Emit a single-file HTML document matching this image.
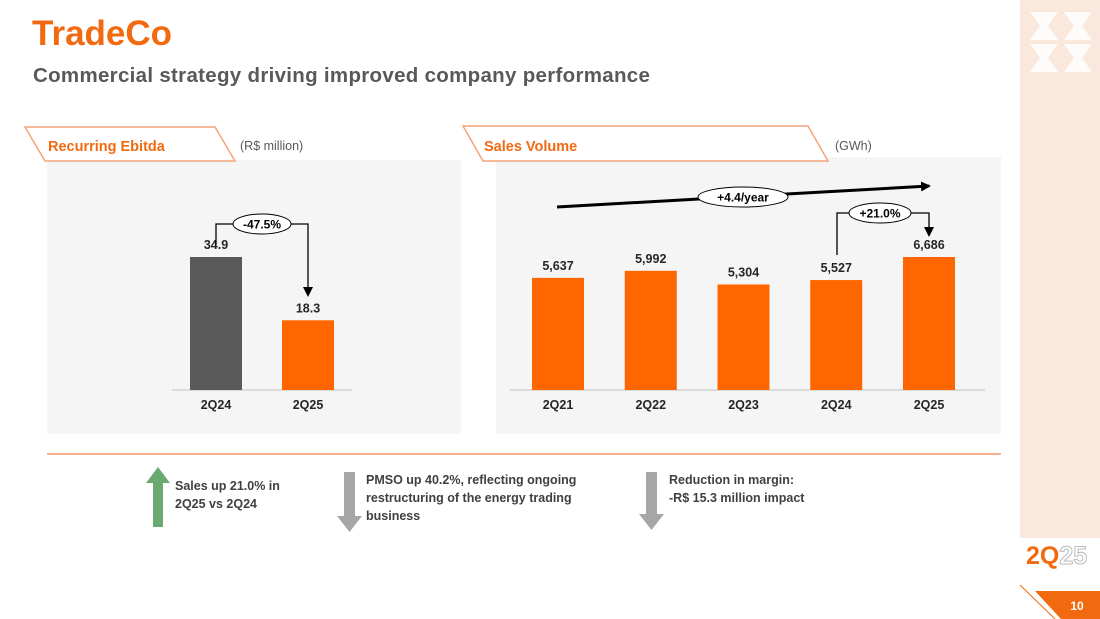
<!DOCTYPE html>
<html><head><meta charset="utf-8"><style>
body{margin:0;width:1100px;height:619px;overflow:hidden;background:#fff;font-family:"Liberation Sans",sans-serif;position:relative}
.t{position:absolute;white-space:nowrap}
</style></head><body>
<div class="t" style="left:32px;top:14px;font-size:35px;font-weight:bold;color:#f26a10">TradeCo</div>
<div class="t" style="left:33px;top:64px;font-size:20.5px;font-weight:bold;color:#595959;letter-spacing:0.3px">Commercial strategy driving improved company performance</div>
<div style="position:absolute;left:1020px;top:0;width:80px;height:538px;background:#fbe8dc"></div>
<svg style="position:absolute;left:1028px;top:10px" width="66" height="66"><g fill="#fff" opacity=".9"><polygon points="2,2 30,2 20,16 30,30 2,30 12,16"/><polygon points="36,2 64,2 54,16 64,30 36,30 46,16"/><polygon points="2,34 30,34 20,48 30,62 2,62 12,48"/><polygon points="36,34 64,34 54,48 64,62 36,62 46,48"/></g></svg>
<div class="t" style="left:1026px;top:542px;font-size:25px;font-weight:bold;color:#f26a10">2Q<span style="color:#fff;-webkit-text-stroke:1px #bbb">25</span></div>
<svg style="position:absolute;left:1015px;top:583px" width="85" height="36"><polyline points="5,2 40,36" stroke="#f26a10" fill="none"/><polygon points="20,8 85,8 85,36 46,36" fill="#f26a10"/><text x="62" y="27" font-size="12" font-weight="bold" fill="#fff" text-anchor="middle" font-family="Liberation Sans">10</text></svg>

<svg style="position:absolute;left:0;top:0" width="1020" height="619" font-family="Liberation Sans">
<rect x="47" y="160" width="414" height="274" fill="#f5f5f5"/>
<rect x="496" y="157" width="505" height="277" fill="#f5f5f5"/>
<polygon points="25,127 215,127 235,161 45,161" fill="#fff" stroke="#f4a47a" stroke-width="1.5"/>
<text x="48" y="151" font-size="14.5" font-weight="bold" fill="#f26a10">Recurring Ebitda</text>
<text x="240" y="150" font-size="12.5" fill="#595959">(R$ million)</text>
<polygon points="463,126 808,126 828,161 483,161" fill="#fff" stroke="#f4a47a" stroke-width="1.5"/>
<text x="484" y="151" font-size="14.5" font-weight="bold" fill="#f26a10">Sales Volume</text>
<text x="835" y="150" font-size="12.5" fill="#595959">(GWh)</text>
<g id="ebitda"></g><g id="sales"></g>
<line x1="47" y1="454" x2="1001" y2="454" stroke="#f26a10" stroke-width="1"/>
<defs><marker id="ah" markerUnits="userSpaceOnUse" markerWidth="10" markerHeight="10" refX="8" refY="5" orient="auto"><path d="M0,0 L10,5 L0,10z" fill="#000"/></marker></defs>
<path d="M216,245 V224 H308 V295" stroke="#000" stroke-width="1.3" fill="none" marker-end="url(#ah)"/>
<ellipse cx="262" cy="224" rx="29" ry="10" fill="#fff" stroke="#000"/>
<text x="262" y="228.5" font-size="12" font-weight="bold" text-anchor="middle">-47.5%</text>
<line x1="557" y1="207" x2="929" y2="186" stroke="#000" stroke-width="3" marker-end="url(#ah)"/>
<ellipse cx="743" cy="197" rx="45" ry="10" fill="#fff" stroke="#000"/>
<text x="743" y="201.5" font-size="12" font-weight="bold" text-anchor="middle">+4.4/year</text>
<path d="M837,255 V213 H929 V235" stroke="#000" stroke-width="1.3" fill="none" marker-end="url(#ah)"/>
<ellipse cx="880" cy="213" rx="31" ry="10" fill="#fff" stroke="#000"/>
<text x="880" y="217.5" font-size="12" font-weight="bold" text-anchor="middle">+21.0%</text>
<polygon points="158,467 170,483 163,483 163,527 153,527 153,483 146,483" fill="#6aa96f"/>
<polygon points="344,472 355,472 355,516 362,516 349.5,532 337,516 344,516" fill="#a6a6a6"/>
<polygon points="646,472 657,472 657,514 664,514 651.5,530 639,514 646,514" fill="#a6a6a6"/>
<g font-size="12.5" font-weight="bold" fill="#404040">
<text><tspan x="175" y="490">Sales up 21.0% in</tspan><tspan x="175" y="508">2Q25 vs 2Q24</tspan></text>
<text><tspan x="366" y="484">PMSO up 40.2%, reflecting ongoing</tspan><tspan x="366" y="502">restructuring of the energy trading</tspan><tspan x="366" y="520">business</tspan></text>
<text><tspan x="669" y="484">Reduction in margin:</tspan><tspan x="669" y="502">-R$ 15.3 million impact</tspan></text>
</g>
</svg>
<script>
const ebitdaCats=["2Q24","2Q25"];
const ebitdaVals=[34.9,18.3];
const ebitdaLabels=["34.9","18.3"];
const salesCats=["2Q21","2Q22","2Q23","2Q24","2Q25"];
const salesVals=[5637,5992,5304,5527,6686];
const salesLabels=["5,637","5,992","5,304","5,527","6,686"];
const NS="http://www.w3.org/2000/svg";
function mk(p,t,a){const e=document.createElementNS(NS,t);for(const k in a)e.setAttribute(k,a[k]);p.appendChild(e);return e;}
function draw(g,cats,vals,labels,x0,step,w,yScale,colors,name,axis){
  const base=390;
  const ax=mk(g,'line',{x1:axis[0],x2:axis[1],y1:base,y2:base,stroke:'#bfbfbf'});
  
  
  cats.forEach((c,i)=>{
    const cx=x0+i*step,h=yScale(vals[i]);
    const r=mk(g,'rect',{x:cx-w/2,y:base-h,width:w,height:h,fill:colors[i]});
    
    
    const v=mk(g,'text',{x:cx,y:base-h-8,'font-size':12.5,'font-weight':'bold','text-anchor':'middle',fill:'#262626'});v.textContent=labels[i];
    
    
    const t=mk(g,'text',{x:cx,y:409,'font-size':12.5,'font-weight':'bold','text-anchor':'middle',fill:'#262626'});t.textContent=c;
    
    
  });
}
draw(document.getElementById('ebitda'),ebitdaCats,ebitdaVals,ebitdaLabels,216,92,52,v=>v*133/34.9,['#595959','#ff6600'],'ebitda',[172,352]);
draw(document.getElementById('sales'),salesCats,salesVals,salesLabels,558,92.75,52,v=>v*133/6686,Array(5).fill('#ff6600'),'sales',[510,985]);
</script>
</body></html>
